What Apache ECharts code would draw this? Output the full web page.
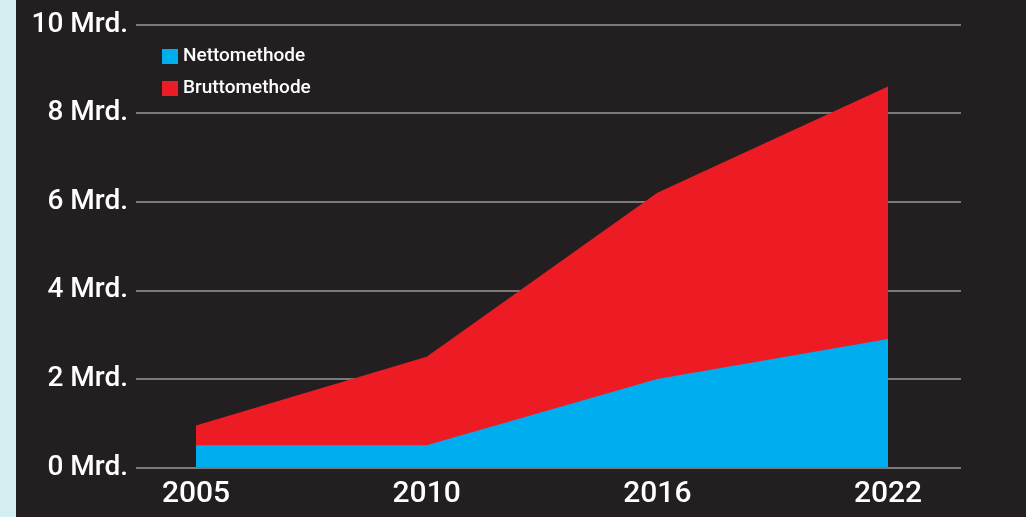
<!DOCTYPE html>
<html style="height: 100%">
  <head>
    <meta charset="utf-8" />
  </head>
  <body style="height: 100%; margin: 0; background: #231f20">
    <div id="chart" style="width: 1026px; height: 517px"></div>
    <script src="https://cdn.jsdelivr.net/npm/echarts@6/dist/echarts.min.js"></script>
    <script>
      // Jahre
      var years = ["2005", "2010", "2016", "2022"];
      // Nettomethode (Mrd.)
      var nettoData = [0.5, 0.5, 2.0, 2.9];
      // Bruttomethode (Mrd.)
      var bruttoData = [0.95, 2.5, 6.2, 8.6];
      // y-Achse
      var yTicks = [0, 2, 4, 6, 8, 10];

      var chart = echarts.init(document.getElementById("chart"));
      var labelFont = "Roboto";

      var option = {
        backgroundColor: "#231f20",
        animation: false,
        graphic: [
          {
            type: "rect",
            shape: { x: 0, y: 0, width: 16, height: 517 },
            style: { fill: "#d5eef2" },
            z: -1,
          },
        ],
        legend: {
          data: ["Nettomethode", "Bruttomethode"],
          orient: "vertical",
          left: 157,
          top: 42,
          icon: "rect",
          itemWidth: 16,
          itemHeight: 15,
          itemGap: 13,
          textStyle: {
            color: "#ffffff",
            fontFamily: labelFont,
            fontSize: 19,
            fontWeight: 500,
          },
        },
        grid: [
          // Gitterlinien + y-Beschriftung
          { left: 136, right: 65, top: 24.5, bottom: 49.5 },
          // Datenbereich
          { left: 196, right: 138, top: 24.5, bottom: 49.5 },
        ],
        xAxis: [
          { gridIndex: 0, type: "value", show: false, min: 0, max: 1 },
          {
            gridIndex: 1,
            type: "category",
            data: years,
            boundaryGap: false,
            axisLine: { show: false },
            axisTick: { show: false },
            axisLabel: {
              color: "#ffffff",
              fontFamily: labelFont,
              fontSize: 30,
              fontWeight: 500,
              margin: 12,
            },
          },
        ],
        yAxis: [
          {
            gridIndex: 0,
            type: "value",
            min: yTicks[0],
            max: yTicks[yTicks.length - 1],
            interval: 2,
            axisLine: { show: false },
            axisTick: { show: false },
            axisLabel: {
              color: "#ffffff",
              fontFamily: labelFont,
              fontSize: 28,
              fontWeight: 500,
              margin: 8,
              formatter: function (v) {
                return v + " Mrd.";
              },
            },
            splitLine: {
              lineStyle: { color: "#9a9a9a", width: 1.5 },
            },
          },
          {
            gridIndex: 1,
            type: "value",
            min: 0,
            max: 10,
            show: false,
            splitLine: { show: false },
          },
        ],
        series: [
          {
            name: "Bruttomethode",
            type: "line",
            xAxisIndex: 1,
            yAxisIndex: 1,
            data: bruttoData,
            symbol: "none",
            lineStyle: { width: 0 },
            itemStyle: { color: "#ed1c24" },
            areaStyle: { color: "#ed1c24", opacity: 1 },
          },
          {
            name: "Nettomethode",
            type: "line",
            xAxisIndex: 1,
            yAxisIndex: 1,
            data: nettoData,
            symbol: "none",
            lineStyle: { width: 0 },
            itemStyle: { color: "#00aeef" },
            areaStyle: { color: "#00aeef", opacity: 1 },
          },
        ],
      };

      chart.setOption(option);
    </script>
  </body>
</html>
